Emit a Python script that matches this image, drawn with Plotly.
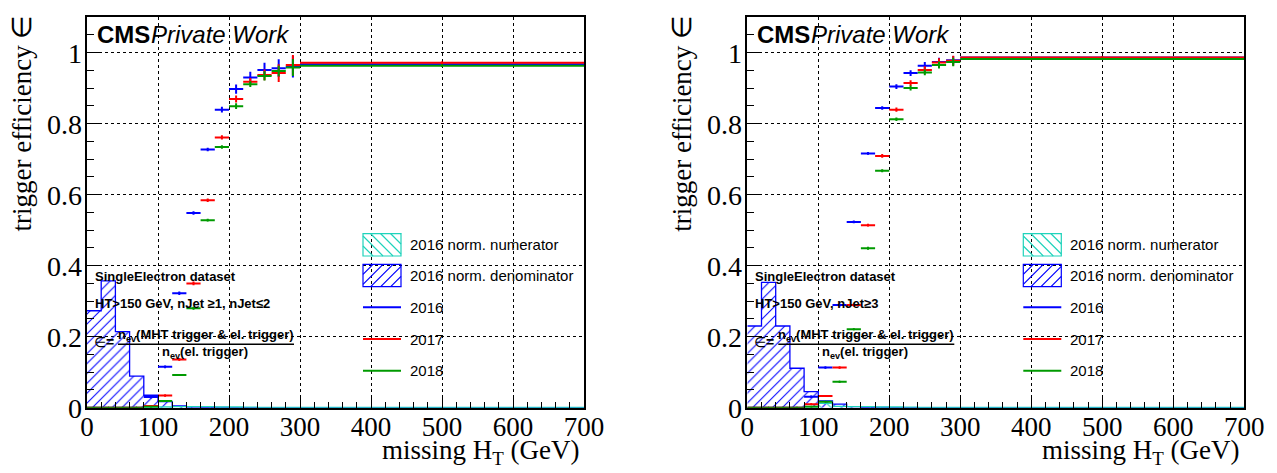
import plotly.graph_objects as go

# MHT binning (GeV): 20 GeV bins up to 300 GeV, then one wide bin 300-700 GeV
bin_edges = [0, 20, 40, 60, 80, 100, 120, 140, 160, 180, 200, 220, 240, 260, 280, 300, 700]

# ---- 1 <= nJet <= 2 ----
eff2016_lowjet = [0.0, 0.0, 0.0, 0.0, 0.030, 0.115, 0.322, 0.548, 0.727, 0.839, 0.897, 0.930, 0.951, 0.956, 0.960, 0.967]
err2016_lowjet = [0.0, 0.0, 0.0, 0.0, 0.004, 0.004, 0.005, 0.005, 0.005, 0.008, 0.013, 0.016, 0.020, 0.025, 0.030, 0.004]
eff2017_lowjet = [0.0, 0.0, 0.0, 0.0, 0.005, 0.034, 0.136, 0.350, 0.584, 0.761, 0.869, 0.918, 0.937, 0.942, 0.965, 0.971]
err2017_lowjet = [0.0, 0.0, 0.0, 0.0, 0.002, 0.003, 0.004, 0.005, 0.005, 0.006, 0.010, 0.010, 0.015, 0.025, 0.028, 0.004]
eff2018_lowjet = [0.0, 0.0, 0.0, 0.0, 0.003, 0.019, 0.092, 0.280, 0.528, 0.734, 0.849, 0.911, 0.934, 0.948, 0.958, 0.963]
err2018_lowjet = [0.0, 0.0, 0.0, 0.0, 0.002, 0.002, 0.003, 0.004, 0.004, 0.005, 0.008, 0.008, 0.013, 0.015, 0.024, 0.004]
num2016_lowjet = [0.0, 0.0, 0.0, 0.0, 0.001, 0.002, 0.003, 0.003, 0.003, 0.002, 0.002, 0.0015, 0.001, 0.001, 0.001, 0.001]
den2016_lowjet = [0.273, 0.357, 0.214, 0.089, 0.035, 0.017, 0.005, 0.002, 0.001, 0.0005, 0.0, 0.0, 0.0, 0.0, 0.0, 0.0]

# ---- nJet >= 3 ----
eff2016_highjet = [0.0, 0.0, 0.0, 0.0, 0.031, 0.113, 0.289, 0.523, 0.716, 0.844, 0.904, 0.942, 0.963, 0.973, 0.978, 0.986]
err2016_highjet = [0.0, 0.0, 0.0, 0.0, 0.003, 0.003, 0.004, 0.004, 0.004, 0.005, 0.007, 0.008, 0.010, 0.012, 0.012, 0.003]
eff2017_highjet = [0.0, 0.0, 0.0, 0.0, 0.010, 0.033, 0.113, 0.289, 0.514, 0.709, 0.839, 0.914, 0.951, 0.972, 0.977, 0.986]
err2017_highjet = [0.0, 0.0, 0.0, 0.0, 0.002, 0.003, 0.003, 0.004, 0.004, 0.005, 0.006, 0.008, 0.010, 0.012, 0.014, 0.003]
eff2018_highjet = [0.0, 0.0, 0.0, 0.0, 0.003, 0.017, 0.073, 0.221, 0.449, 0.667, 0.812, 0.900, 0.944, 0.965, 0.973, 0.982]
err2018_highjet = [0.0, 0.0, 0.0, 0.0, 0.002, 0.002, 0.003, 0.003, 0.004, 0.004, 0.005, 0.007, 0.008, 0.010, 0.012, 0.003]
num2016_highjet = [0.0, 0.0, 0.0, 0.0, 0.002, 0.012, 0.004, 0.003, 0.003, 0.002, 0.002, 0.0015, 0.001, 0.001, 0.001, 0.001]
den2016_highjet = [0.230, 0.353, 0.230, 0.111, 0.045, 0.019, 0.010, 0.003, 0.001, 0.0005, 0.0, 0.0, 0.0, 0.0, 0.0, 0.0]

# efficiency axis labels
eff_tick_values = [0, 0.2, 0.4, 0.6, 0.8, 1.0]
eff_tick_labels = ["0", "0.2", "0.4", "0.6", "0.8", "1"]

year_labels = ["2016", "2017", "2018"]
year_colors = ["#0000ff", "#ff0000", "#009a00"]
num_color = "#1fd3bb"
den_color = "#0000ff"
legend_labels = ["2016 norm. numerator", "2016 norm. denominator"] + year_labels

selection_texts = ["HT&gt;150 GeV, nJet ≥1, nJet≤2", "HT&gt;150 GeV, nJet≥3"]

SANS = "Liberation Sans, Arial, sans-serif"
SERIF = "Liberation Serif, Times New Roman, serif"

# page geometry (pixels)
W, H = 1277, 473
PANEL_LEFT = [87, 747.3]
PLOT_W = 497.0
PLOT_TOP, PLOT_BOTTOM = 17.0, 407.7
PLOT_H = PLOT_BOTTOM - PLOT_TOP

centers = [(a + b) / 2 for a, b in zip(bin_edges[:-1], bin_edges[1:])]
halfw = [(b - a) / 2 for a, b in zip(bin_edges[:-1], bin_edges[1:])]

fig = go.Figure()


def dx(px):
    return px / PLOT_W


def dy(py):
    return 1 - py / PLOT_H


def hatch_path(x0, y0, x1, y1, step, forward=True):
    """Diagonal hatch lines clipped to a box, in panel pixel coords -> domain path."""
    segs = []
    if forward:  # "/" : x + y = c
        c = x0 + y0
        while c < x1 + y1:
            lo = max(x0, c - y1)
            hi = min(x1, c - y0)
            if hi > lo:
                segs.append((lo, c - lo, hi, c - hi))
            c += step
    else:  # "\" : x - y = c
        c = x0 - y1
        while c < x1 - y0:
            lo = max(x0, y0 + c)
            hi = min(x1, y1 + c)
            if hi > lo:
                segs.append((lo, lo - c, hi, hi - c))
            c += step
    return " ".join(
        f"M{dx(a):.5f},{dy(b):.5f} L{dx(c2):.5f},{dy(d):.5f}" for a, b, c2, d in segs
    )


panels = [
    (num2016_lowjet, den2016_lowjet,
     [eff2016_lowjet, eff2017_lowjet, eff2018_lowjet],
     [err2016_lowjet, err2017_lowjet, err2018_lowjet]),
    (num2016_highjet, den2016_highjet,
     [eff2016_highjet, eff2017_highjet, eff2018_highjet],
     [err2016_highjet, err2017_highjet, err2018_highjet]),
]

annotations = []
shapes = []

for i, (num, den, effs, errs) in enumerate(panels):
    xa = "x" if i == 0 else "x2"
    ya = "y" if i == 0 else "y2"
    xd = "x domain" if i == 0 else "x2 domain"
    yd = "y domain" if i == 0 else "y2 domain"

    # normalised denominator / numerator histograms as hatched steps
    for vals, col, shp in [(den, den_color, "/"), (num, num_color, "\\")]:
        fig.add_trace(go.Scatter(
            x=bin_edges, y=list(vals) + [vals[-1]], xaxis=xa, yaxis=ya,
            mode="lines", line=dict(shape="hv", color=col, width=1.3),
            fill="tozeroy", fillcolor="rgba(0,0,0,0)",
            fillpattern=dict(shape=shp, fgcolor=col, bgcolor="rgba(0,0,0,0)",
                             size=7, solidity=0.15, fillmode="replace"),
            hoverinfo="skip", showlegend=False,
        ))

    # efficiency per year
    for eff, err, col in zip(effs, errs, year_colors):
        fig.add_trace(go.Scatter(
            x=centers, y=eff, xaxis=xa, yaxis=ya, mode="markers",
            marker=dict(size=2, color=col),
            error_x=dict(type="data", array=halfw, color=col, thickness=2, width=0),
            error_y=dict(type="data", array=err, color=col, thickness=2, width=0),
            showlegend=False,
        ))

    # efficiency tick labels, placed on the y scale just left of the frame
    for v, t in zip(eff_tick_values, eff_tick_labels):
        annotations.append(dict(xref=xd, yref=ya, x=0, y=v, text=t, showarrow=False,
                                xanchor="right", yanchor="middle", xshift=-3, yshift=-1,
                                font=dict(family=SERIF, size=28, color="black")))

    # CMS label
    annotations.append(dict(xref=xd, yref=yd, x=dx(8), y=dy(18), text="<b>CMS</b>",
                            showarrow=False, xanchor="left", yanchor="middle",
                            font=dict(family=SANS, size=24, color="black")))
    annotations.append(dict(xref=xd, yref=yd, x=dx(62), y=dy(18), text="<i>Private Work</i>",
                            showarrow=False, xanchor="left", yanchor="middle",
                            font=dict(family=SANS, size=24, color="black")))

    # selection text
    annotations.append(dict(xref=xd, yref=yd, x=dx(6), y=dy(259.7),
                            text="<b>SingleElectron dataset</b>", showarrow=False,
                            xanchor="left", yanchor="middle",
                            font=dict(family=SANS, size=13, color="black")))
    annotations.append(dict(xref=xd, yref=yd, x=dx(6), y=dy(286.3),
                            text=f"<b>{selection_texts[i]}</b>", showarrow=False,
                            xanchor="left", yanchor="middle",
                            font=dict(family=SANS, size=13, color="black")))
    annotations.append(dict(xref=xd, yref=yd, x=dx(5), y=dy(325),
                            text="∈<b>=</b>", showarrow=False,
                            xanchor="left", yanchor="middle",
                            font=dict(family=SANS, size=14, color="black")))
    annotations.append(dict(xref=xd, yref=yd, x=dx(119), y=dy(318),
                            text="<b>n<sub>ev</sub>(MHT trigger &amp; el. trigger)</b>",
                            showarrow=False, xanchor="center", yanchor="middle",
                            font=dict(family=SANS, size=13, color="black")))
    annotations.append(dict(xref=xd, yref=yd, x=dx(118), y=dy(335),
                            text="<b>n<sub>ev</sub>(el. trigger)</b>",
                            showarrow=False, xanchor="center", yanchor="middle",
                            font=dict(family=SANS, size=13, color="black")))
    shapes.append(dict(type="line", xref=xd, yref=yd, x0=dx(31), x1=dx(207),
                       y0=dy(327.2), y1=dy(327.2), line=dict(color="black", width=1.5)))

    # legend
    box_x0, box_x1 = 276, 314
    row_y = [228, 258.7, 290.3, 322, 353.7]
    for k, lab in enumerate(legend_labels):
        annotations.append(dict(xref=xd, yref=yd, x=dx(321), y=dy(row_y[k]), text=lab,
                                showarrow=False, xanchor="left", yanchor="middle",
                                font=dict(family=SANS, size=15, color="black")))
    for k, (col, fwd) in enumerate([(num_color, False), (den_color, True)]):
        y0, y1 = row_y[k] - 11.3, row_y[k] + 11
        shapes.append(dict(type="rect", xref=xd, yref=yd, x0=dx(box_x0), x1=dx(box_x1),
                           y0=dy(y1), y1=dy(y0), line=dict(color=col, width=1.2)))
        shapes.append(dict(type="path", xref=xd, yref=yd,
                           path=hatch_path(box_x0, y0, box_x1, y1, 10, forward=fwd),
                           line=dict(color=col, width=1.2)))
    for k, col in enumerate(year_colors):
        yy = row_y[2 + k]
        shapes.append(dict(type="line", xref=xd, yref=yd, x0=dx(box_x0), x1=dx(box_x1),
                           y0=dy(yy), y1=dy(yy), line=dict(color=col, width=2)))

    # axis titles
    annotations.append(dict(xref="paper", yref="paper",
                            x=(PANEL_LEFT[i] + PLOT_W - 2) / W, y=1 - 452 / H,
                            text="missing H<sub>T</sub> (GeV)", showarrow=False,
                            xanchor="right", yanchor="middle",
                            font=dict(family=SERIF, size=27, color="black")))
    annotations.append(dict(xref="paper", yref="paper",
                            x=(PANEL_LEFT[i] - 65) / W, y=1 - 123.5 / H,
                            text="trigger efficiency ∈", showarrow=False, textangle=-90,
                            xanchor="center", yanchor="middle",
                            font=dict(family=SERIF, size=27, color="black")))

axis_common = dict(showline=True, mirror=True, linecolor="black", linewidth=1.5,
                   showgrid=True, gridcolor="black", griddash="dot", gridwidth=1,
                   zeroline=False, ticks="inside", tickcolor="black", tickwidth=1,
                   automargin=False)

xcfg = dict(axis_common, range=[0, 700], dtick=100, tick0=0, ticklen=13,
            minor=dict(ticks="inside", ticklen=6, dtick=20, tickcolor="black", showgrid=False),
            tickfont=dict(family=SERIF, size=27, color="black"), ticklabelstandoff=-6)
ycfg = dict(axis_common, range=[0, 1.1], tickvals=eff_tick_values, ticklen=14,
            showticklabels=False,
            minor=dict(ticks="inside", ticklen=7, dtick=0.05, tickcolor="black", showgrid=False))

ydom = [1 - PLOT_BOTTOM / H, 1 - PLOT_TOP / H]
fig.update_layout(
    width=W, height=H, margin=dict(l=0, r=0, t=0, b=0, autoexpand=False),
    paper_bgcolor="white", plot_bgcolor="white", showlegend=False,
    xaxis=dict(xcfg, domain=[PANEL_LEFT[0] / W, (PANEL_LEFT[0] + PLOT_W) / W], anchor="y"),
    yaxis=dict(ycfg, domain=ydom, anchor="x"),
    xaxis2=dict(xcfg, domain=[PANEL_LEFT[1] / W, (PANEL_LEFT[1] + PLOT_W) / W], anchor="y2"),
    yaxis2=dict(ycfg, domain=ydom, anchor="x2"),
    annotations=annotations, shapes=shapes,
)

fig.write_html("out.html")
